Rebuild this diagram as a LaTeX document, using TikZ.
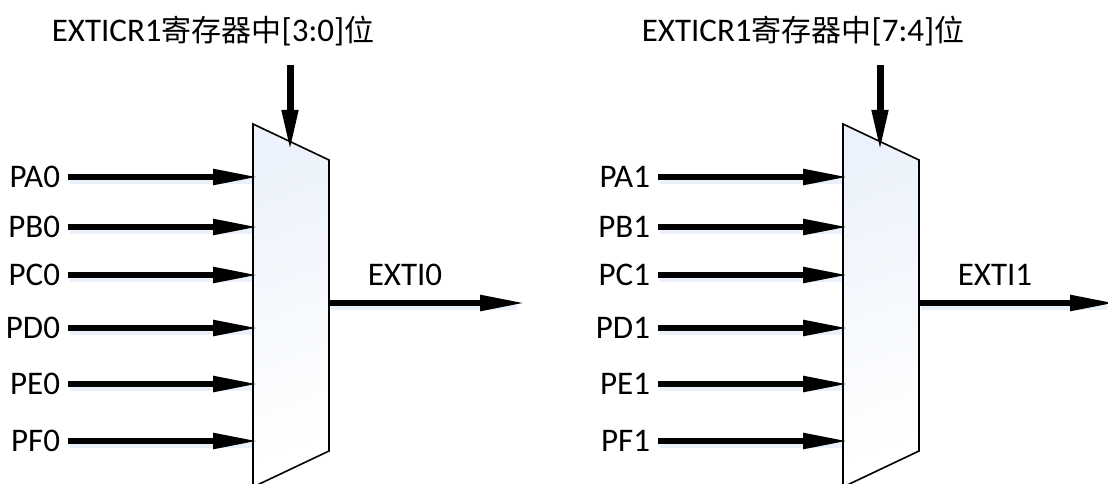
\documentclass[tikz,border=0pt]{standalone}
\usepackage{fontspec}
\setmainfont{Carlito}
\newfontfamily\cjk{Noto Sans CJK SC}
\usetikzlibrary{arrows.meta,calc}
\definecolor{glowc}{RGB}{224,234,248}
\definecolor{muxtop}{RGB}{236,242,251}
\newcommand{\zh}[1]{{\cjk\fontsize{30}{36}\selectfont #1}}
\tikzset{
  lbl/.style={inner xsep=8pt, inner ysep=0pt, outer sep=0pt, anchor=east, font=\fontsize{33}{40}\selectfont},
  ttl/.style={inner sep=0pt, anchor=base, font=\fontsize{33}{40}\selectfont},
  inarrow/.style={line width=5.5pt, -{Triangle[length=45pt,width=15pt]}},
  toparrow/.style={line width=7pt, -{Triangle[length=42pt,width=15pt]}},
  glow/.style={line width=6pt, glowc, opacity=0.7},
  muxline/.style={line width=1.6pt, line join=miter, top color=muxtop, bottom color=white, shading angle=20}
}
\begin{document}
\begin{tikzpicture}[x=1pt,y=-1pt]
\useasboundingbox (0,0) rectangle (1108,484);
\clip (0,0) rectangle (1108,484);
\foreach \o/\n/\bits in {0/0/3:0, 590/1/7:4}{
  % multiplexer
  \coordinate (TL\n) at (\o+253,124);
  \coordinate (TR\n) at (\o+329,160);
  \coordinate (BR\n) at (\o+329,451);
  \coordinate (BL\n) at (\o+253,487);
  \draw[muxline] (TL\n) -- (TR\n) -- (BR\n) -- (BL\n) -- cycle;
  % title and control arrow
  \node[ttl] (title\n) at (\o+213,42) {EXTICR1\zh{寄存器中}[\bits]\zh{位}};
  \coordinate (ctlA\n) at (\o+290,65);
  \coordinate (ctlB\n) at (\o+290,152);
  \draw[toparrow] (ctlA\n) -- (ctlB\n);
  % inputs
  \foreach \l/\y in {A/177,B/227,C/275,D/328,E/384,F/441}{
    \node[lbl] (P\l\n) at (\o+68,\y) {P\l\n};
    \coordinate (in\l\n) at (\o+258,\y);
    \draw[glow] ($(P\l\n.east)+(2,4)$) -- ($(in\l\n)+(-6,4)$);
    \draw[inarrow] (P\l\n.east) -- (in\l\n);
  }
  % output
  \coordinate (outA\n) at (\o+329,303);
  \coordinate (outB\n) at (\o+525,303);
  \node[ttl] (exti\n) at (\o+405,285) {EXTI\n};
  \draw[glow] ($(outA\n)+(2,4)$) -- ($(outB\n)+(-8,4)$);
  \draw[inarrow] (outA\n) -- (outB\n);
}
\end{tikzpicture}
\end{document}
